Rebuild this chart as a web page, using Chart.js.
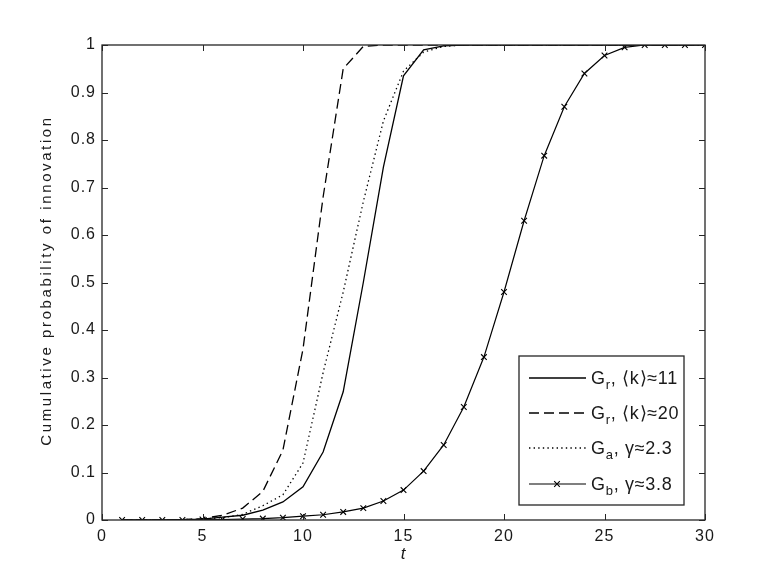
<!DOCTYPE html>
<html>
<head>
<meta charset="utf-8">
<script src="https://cdn.jsdelivr.net/npm/chart.js@4/dist/chart.umd.min.js"></script>
<style>
html,body{margin:0;padding:0;background:#fff;}
#wrap{width:778px;height:584px;position:relative;}
</style>
</head>
<body>
<div id="wrap"><canvas id="c" width="778" height="584"></canvas></div>
<script>
const tValues = [1,2,3,4,5,6,7,8,9,10,11,12,13,14,15,16,17,18,19,20,21,22,23,24,25,26,27,28,29,30];
const grK11 = [0,0,0,0.001,0.002,0.006,0.01,0.021,0.038,0.07,0.143,0.27,0.5,0.743,0.935,0.99,0.998,1,1,1,1,1,1,1,1,1,1,1,1,1];
const grK20 = [0,0,0,0.001,0.003,0.01,0.025,0.06,0.147,0.36,0.68,0.95,0.997,1,1,1,1,1,1,1,1,1,1,1,1,1,1,1,1,1];
const gaG23 = [0,0,0,0.001,0.002,0.005,0.012,0.03,0.053,0.12,0.31,0.48,0.67,0.84,0.945,0.985,0.997,1,1,1,1,1,1,1,1,1,1,1,1,1];
const gbG38 = [0,0,0,0,0.001,0.001,0.002,0.003,0.005,0.008,0.011,0.017,0.025,0.04,0.063,0.103,0.158,0.238,0.343,0.48,0.63,0.767,0.87,0.94,0.978,0.995,1,1,1,1];
const xTickValues = [0,5,10,15,20,25,30];
const yTickValues = [0,0.1,0.2,0.3,0.4,0.5,0.6,0.7,0.8,0.9,1];
const yTitle = 'Cumulative probability of innovation';
const xTitle = 't';
const legendLabels = [
  {main:'G', sub:'r', rest:', \u27E8k\u27E9\u224811'},
  {main:'G', sub:'r', rest:', \u27E8k\u27E9\u224820'},
  {main:'G', sub:'a', rest:', \u03B3\u22482.3'},
  {main:'G', sub:'b', rest:', \u03B3\u22483.8'}
];

const FONT = '"Liberation Sans", Arial, sans-serif';
const toXY = arr => tValues.map((t,i) => ({x:t, y:arr[i]}));

const datasets = [
  {label:'Gr11', data:toXY(grK11), borderColor:'#000', borderWidth:1.3, pointRadius:0, borderDash:[]},
  {label:'Gr20', data:toXY(grK20), borderColor:'#000', borderWidth:1.3, pointRadius:0, borderDash:[10,5]},
  {label:'Ga', data:toXY(gaG23), borderColor:'#000', borderWidth:1.3, pointRadius:0, borderDash:[1.4,3.2]},
  {label:'Gb', data:toXY(gbG38), borderColor:'#000', borderWidth:1.2, pointRadius:4, pointStyle:'crossRot', pointBorderColor:'#000', pointBorderWidth:1.1, borderDash:[]}
];

const framePlugin = {
  id:'frame',
  beforeDraw(chart){
    chart.ctx.letterSpacing = '1px';
  },
  afterDraw(chart){
    const {ctx, chartArea:a, scales:{x, y}} = chart;
    ctx.save();
    ctx.strokeStyle = '#262626';
    ctx.lineWidth = 1.3;
    ctx.strokeRect(a.left, a.top, a.right-a.left, a.bottom-a.top);
    const L = 6;
    ctx.beginPath();
    xTickValues.forEach(v => {
      const px = Math.round(x.getPixelForValue(v))+0.5;
      ctx.moveTo(px, a.bottom); ctx.lineTo(px, a.bottom-L);
      ctx.moveTo(px, a.top); ctx.lineTo(px, a.top+L);
    });
    yTickValues.forEach(v => {
      const py = Math.round(y.getPixelForValue(v))+0.5;
      ctx.moveTo(a.left, py); ctx.lineTo(a.left+L, py);
      ctx.moveTo(a.right, py); ctx.lineTo(a.right-L, py);
    });
    ctx.lineWidth = 1;
    ctx.stroke();

    // y axis title
    ctx.save();
    ctx.translate(47, (a.top + a.bottom)/2 - 2);
    ctx.rotate(-Math.PI/2);
    ctx.font = '15px ' + FONT;
    ctx.letterSpacing = '2.6px';
    ctx.fillStyle = '#1a1a1a';
    ctx.textAlign = 'center';
    ctx.textBaseline = 'middle';
    ctx.fillText(yTitle, 0, 0);
    ctx.restore();

    // legend
    const bx = 519, by = 356, bw = 165, bh = 149;
    ctx.fillStyle = '#fff';
    ctx.fillRect(bx, by, bw, bh);
    ctx.strokeStyle = '#262626';
    ctx.lineWidth = 1.3;
    ctx.strokeRect(bx, by, bw, bh);
    const rows = [378, 413, 448, 484];
    datasets.forEach((ds, i) => {
      const yy = rows[i];
      ctx.save();
      ctx.strokeStyle = '#000';
      ctx.lineWidth = ds.borderWidth;
      ctx.setLineDash(ds.borderDash || []);
      ctx.beginPath();
      ctx.moveTo(529, yy); ctx.lineTo(586, yy);
      ctx.stroke();
      ctx.setLineDash([]);
      if (ds.pointStyle === 'crossRot') {
        const cx = 557, r = 4*Math.SQRT1_2;
        ctx.lineWidth = 1.1;
        ctx.beginPath();
        ctx.moveTo(cx-r, yy-r); ctx.lineTo(cx+r, yy+r);
        ctx.moveTo(cx+r, yy-r); ctx.lineTo(cx-r, yy+r);
        ctx.stroke();
      }
      ctx.restore();
      const lab = legendLabels[i];
      ctx.fillStyle = '#1a1a1a';
      ctx.textBaseline = 'alphabetic';
      ctx.textAlign = 'left';
      ctx.letterSpacing = '0.7px';
      let tx = 591;
      const base = yy + 6;
      ctx.font = '18px ' + FONT;
      ctx.fillText(lab.main, tx, base); tx += ctx.measureText(lab.main).width;
      ctx.font = '13px ' + FONT;
      ctx.fillText(lab.sub, tx, base + 5); tx += ctx.measureText(lab.sub).width;
      ctx.font = '18px ' + FONT;
      ctx.fillText(lab.rest, tx, base);
    });
    ctx.restore();
  }
};

new Chart(document.getElementById('c'), {
  type:'line',
  data:{datasets},
  options:{
    responsive:false,
    animation:false,
    devicePixelRatio:1,
    layout:{padding:{left:0, top:45, right:73, bottom:0}},
    plugins:{legend:{display:false}, tooltip:{enabled:false}},
    elements:{line:{tension:0}},
    scales:{
      x:{
        type:'linear', min:0, max:30,
        afterFit(s){ s.height = 64; },
        afterBuildTicks(s){ s.ticks = xTickValues.map(v => ({value:v})); },
        grid:{display:false, drawTicks:false},
        border:{display:false},
        ticks:{color:'#1a1a1a', padding:7, font:{family:FONT, size:16}, maxRotation:0, autoSkip:false},
        title:{display:true, text:xTitle, color:'#1a1a1a', font:{family:FONT, size:17, style:'italic'}, padding:{top:0, bottom:20}}
      },
      y:{
        type:'linear', min:0, max:1,
        afterFit(s){ s.width = 102; },
        afterBuildTicks(s){ s.ticks = yTickValues.map(v => ({value:v})); },
        grid:{display:false, drawTicks:false},
        border:{display:false},
        ticks:{color:'#1a1a1a', padding:6, font:{family:FONT, size:16}, autoSkip:false,
          callback:(v) => String(Math.round(v*10)/10)},
        title:{display:false}
      }
    }
  },
  plugins:[framePlugin]
});
</script>
</body>
</html>
